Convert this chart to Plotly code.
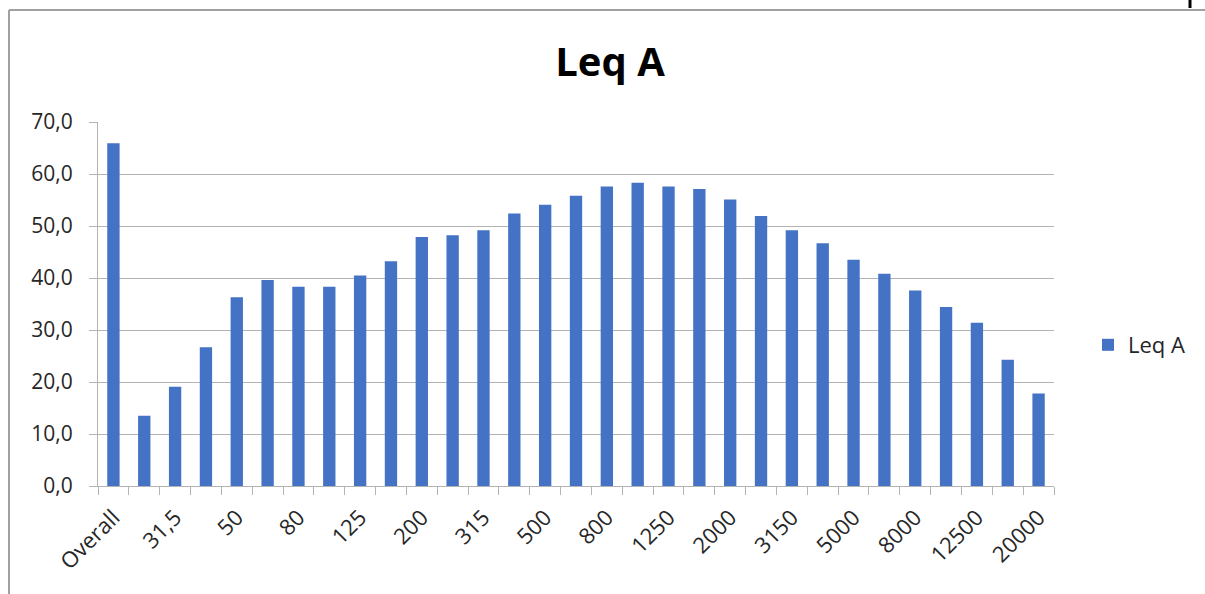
import plotly.graph_objects as go

categories = ["Overall", "25", "31,5", "40", "50", "63", "80", "100", "125", "160",
              "200", "250", "315", "400", "500", "630", "800", "1000", "1250", "1600",
              "2000", "2500", "3150", "4000", "5000", "6300", "8000", "10000", "12500",
              "16000", "20000"]
leq_a = [65.9, 13.5, 19.1, 26.7, 36.3, 39.6, 38.3, 38.3, 40.5, 43.2,
         47.9, 48.2, 49.2, 52.4, 54.1, 55.8, 57.6, 58.3, 57.6, 57.1,
         55.1, 51.9, 49.2, 46.7, 43.5, 40.8, 37.6, 34.4, 31.4, 24.3, 17.8]
shown_labels = ["Overall", "31,5", "50", "80", "125", "200", "315", "500", "800",
                "1250", "2000", "3150", "5000", "8000", "12500", "20000"]
y_ticks = [0, 10, 20, 30, 40, 50, 60, 70]

W, H = 1205, 594
L, R, T, B = 98, 1054, 122, 486


def px(x):
    return (x - L) / (R - L)


def py(y):
    return (B - y) / (B - T)


ticktext = [c if c in shown_labels else "" for c in categories]

fig = go.Figure()
fig.add_trace(go.Bar(x=categories, y=leq_a, name="Leq A",
                     marker=dict(color="#4472C4", line=dict(width=0))))

FONT = "Open Sans"
GRID = "#b3b3b3"
TXT = "#262626"

fig.update_layout(
    width=W, height=H,
    margin=dict(l=L, r=W - R, t=T, b=H - B, autoexpand=False),
    paper_bgcolor="white", plot_bgcolor="white",
    bargap=0.6,
    separators=", ",
    font=dict(family=FONT, color=TXT, size=21),
    title=dict(text="<b>Leq A</b>", x=610 / W, xanchor="center",
               y=1 - 62 / H, yanchor="middle", yref="container",
               font=dict(family=FONT, size=40, color="#000000")),
    showlegend=True,
    legend=dict(x=px(1088), xanchor="left", y=py(345), yanchor="middle",
                font=dict(family=FONT, size=22, color=TXT),
                itemwidth=30, bgcolor="rgba(0,0,0,0)"),
    xaxis=dict(type="category", tickmode="array", tickvals=categories,
               ticktext=ticktext, tickson="boundaries", ticks="outside",
               ticklen=8, tickcolor=GRID, tickangle=-45, showgrid=False,
               showline=True, linecolor=GRID, linewidth=1,
               ticklabelstandoff=9,
               tickfont=dict(family=FONT, size=22, color=TXT),
               range=[-0.5, len(categories) - 0.5]),
    yaxis=dict(range=[0, 70], tickvals=y_ticks, tickformat=".1f",
               ticks="outside", ticklen=8, tickcolor=GRID,
               showgrid=True, gridcolor=GRID, gridwidth=1,
               showline=True, linecolor=GRID, linewidth=1,
               zeroline=False, ticklabelstandoff=12,
               tickfont=dict(family=FONT, size=21, color=TXT)),
    shapes=[
        dict(type="line", xref="paper", yref="paper", x0=px(9), x1=px(W + 5),
             y0=py(10), y1=py(10), line=dict(color="#a0a0a0", width=2)),
        dict(type="line", xref="paper", yref="paper", x0=px(9), x1=px(9),
             y0=py(10), y1=py(H + 5), line=dict(color="#a0a0a0", width=2)),
        dict(type="line", xref="paper", yref="paper", x0=px(1190), x1=px(1190),
             y0=py(0), y1=py(8), line=dict(color="#000000", width=3)),
    ],
)

fig.write_html("out.html")
